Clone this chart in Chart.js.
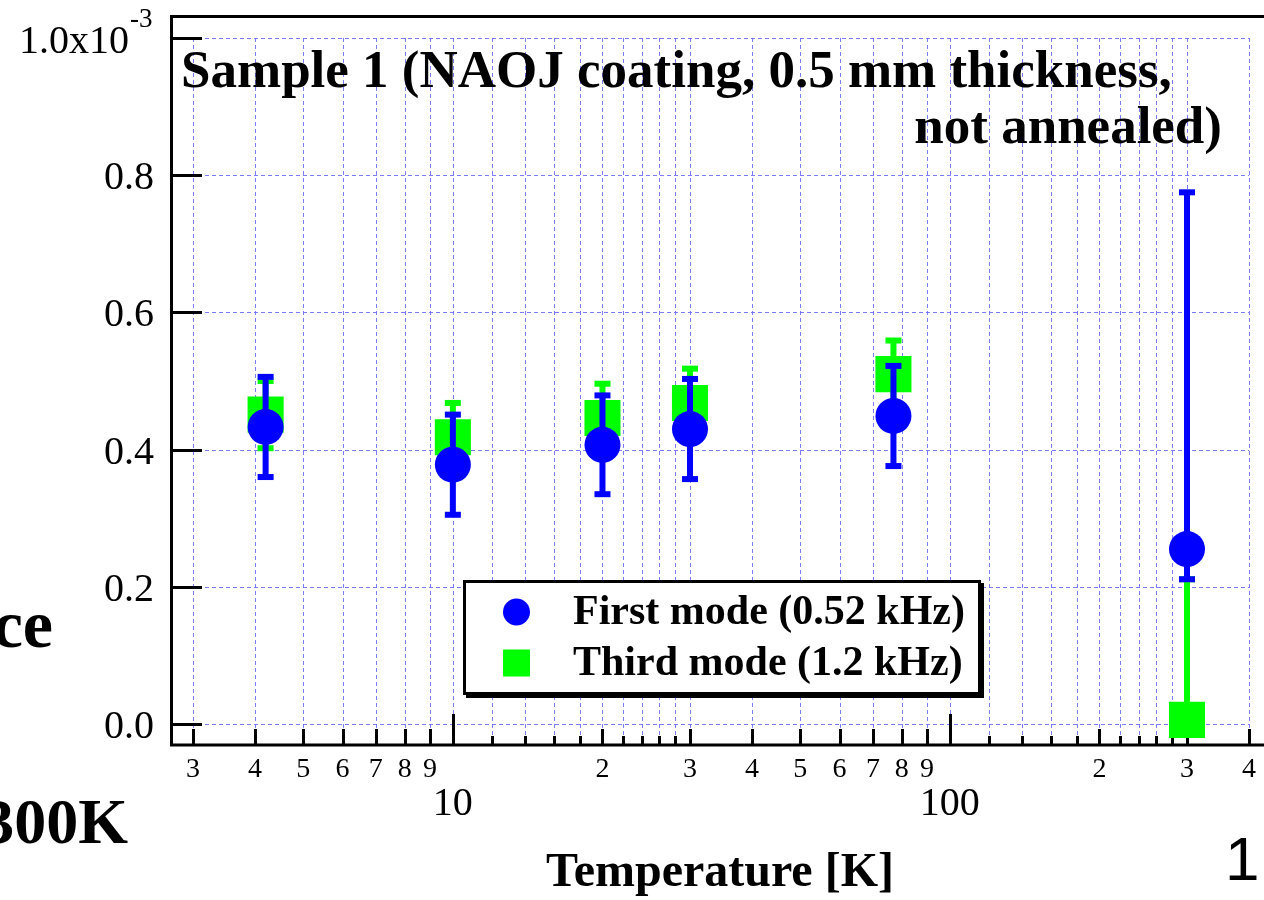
<!DOCTYPE html>
<html>
<head>
<meta charset="utf-8">
<script src="https://cdn.jsdelivr.net/npm/chart.js@4.4.0/dist/chart.umd.min.js"></script>
<style>
  html, body { margin: 0; padding: 0; background: #fff; overflow: hidden; }
  canvas { display: block; }
</style>
</head>
<body>
<canvas id="chart" width="1264" height="900"></canvas>
<script>
// Sample 1 loss vs temperature, y values in units of 1e-3
const temperatures = [4.2, 10, 20, 30, 77, 300];
const firstMode = [0.433, 0.378, 0.407, 0.430, 0.449, 0.255];
const firstErrUp = [0.073, 0.073, 0.072, 0.073, 0.073, 0.520];
const firstErrDown = [0.073, 0.073, 0.072, 0.073, 0.073, 0.044];
const thirdMode = [0.451, 0.418, 0.446, 0.468, 0.510, 0.006];
const thirdErrUp = [0.049, 0.050, 0.050, 0.050, 0.049, 0.205];
const thirdErrDown = [0.049, 0.050, 0.050, 0.050, 0.049, 0.006];

// tick positions on the log axis
const xLabelTicks = [3, 4, 5, 6, 7, 8, 9, 20, 30, 40, 50, 60, 70, 80, 90, 200, 300, 400];
const xDecadeTicks = [10, 100];
const xSmallTicks = [12, 14, 16, 18, 22, 24, 26, 28, 120, 140, 160, 180, 220, 240, 260, 280];
const yTicks = [0, 0.2, 0.4, 0.6, 0.8, 1.0];
const yTickLabels = ['0.0', '0.2', '0.4', '0.6', '0.8', '1.0x10'];

const SERIF = '"Liberation Serif", "Times New Roman", serif';
const SANS = '"Liberation Sans", Arial, sans-serif';
const GRID = 'rgba(110,110,255,0.9)';

// grid, frame and inside ticks the ROOT way
const rootFrame = {
    id: 'rootFrame',
    beforeDatasetsDraw(chart) {
        const ctx = chart.ctx, x = chart.scales.x, y = chart.scales.y, a = chart.chartArea;
        const yTop = y.getPixelForValue(1.0);
        const xRight = x.getPixelForValue(400);
        ctx.save();
        ctx.strokeStyle = GRID;
        ctx.lineWidth = 1;
        ctx.setLineDash([4, 3]);
        [...xLabelTicks, ...xDecadeTicks, ...xSmallTicks].forEach(v => {
            let px = Math.round(x.getPixelForValue(v)) + 0.5;
            ctx.beginPath(); ctx.moveTo(px, yTop); ctx.lineTo(px, a.bottom); ctx.stroke();
        });
        yTicks.forEach(v => {
            let py = Math.round(y.getPixelForValue(v)) + 0.5;
            ctx.beginPath(); ctx.moveTo(a.left, py); ctx.lineTo(xRight, py); ctx.stroke();
        });
        ctx.setLineDash([]);

        ctx.strokeStyle = '#000';
        ctx.lineWidth = 3;
        // frame
        ctx.beginPath();
        ctx.moveTo(a.right, a.top + 1.5); ctx.lineTo(a.left + 1.5, a.top + 1.5);
        ctx.lineTo(a.left + 1.5, a.bottom); ctx.lineTo(a.right, a.bottom);
        ctx.stroke();
        // y ticks
        yTicks.forEach(v => {
            let py = Math.round(y.getPixelForValue(v)) + 0.5;
            ctx.beginPath(); ctx.moveTo(a.left, py); ctx.lineTo(a.left + 32, py); ctx.stroke();
        });
        // x ticks
        const drawTick = (v, len) => {
            let px = Math.round(x.getPixelForValue(v)) + 0.5;
            ctx.beginPath(); ctx.moveTo(px, a.bottom); ctx.lineTo(px, a.bottom - len); ctx.stroke();
        };
        xLabelTicks.forEach(v => drawTick(v, 16));
        xDecadeTicks.forEach(v => drawTick(v, 31));
        xSmallTicks.forEach(v => drawTick(v, 9));

        // tick labels
        ctx.fillStyle = '#000';
        ctx.textAlign = 'center';
        ctx.textBaseline = 'alphabetic';
        ctx.font = '28px ' + SERIF;
        xLabelTicks.forEach(v => {
            let lbl = String(v).charAt(0);
            ctx.fillText(lbl, x.getPixelForValue(v), 777);
        });
        ctx.font = '40px ' + SERIF;
        xDecadeTicks.forEach(v => ctx.fillText(String(v), x.getPixelForValue(v), 815));

        ctx.textAlign = 'right';
        yTicks.forEach((v, i) => {
            let py = y.getPixelForValue(v);
            ctx.font = '40px ' + SERIF;
            if (i === yTicks.length - 1) {
                ctx.fillText(yTickLabels[i], 129, py + 15);
                ctx.font = '27px ' + SERIF;
                ctx.textAlign = 'left';
                ctx.fillText('-3', 130, py - 11);
                ctx.textAlign = 'right';
            } else {
                ctx.fillText(yTickLabels[i], 154, py + 14);
            }
        });
        ctx.restore();
    }
};

// error bars drawn just before each dataset's markers
const errorBars = {
    id: 'errorBars',
    beforeDatasetDraw(chart, args) {
        const ds = chart.data.datasets[args.index];
        const y = chart.scales.y, a = chart.chartArea, ctx = chart.ctx;
        ctx.save();
        ctx.beginPath();
        ctx.rect(a.left, a.top, a.right - a.left, a.bottom - a.top);
        ctx.clip();
        ctx.fillStyle = ds.backgroundColor;
        args.meta.data.forEach((pt, i) => {
            let v = ds.data[i].y;
            let top = y.getPixelForValue(v + ds.errUp[i]);
            let bot = y.getPixelForValue(v - ds.errDown[i]);
            ctx.fillRect(pt.x - 3, top, 6, bot - top);
            ctx.fillRect(pt.x - 8, top - 3, 16, 6);
            ctx.fillRect(pt.x - 8, bot - 3, 16, 6);
        });
        ctx.restore();
    }
};

// title, axis title, legend box and stray page text
const annotations = {
    id: 'annotations',
    afterDraw(chart) {
        const ctx = chart.ctx;
        ctx.save();
        ctx.fillStyle = '#000';
        ctx.textBaseline = 'alphabetic';
        ctx.font = 'bold 53px ' + SERIF;
        ctx.textAlign = 'left';
        ctx.fillText('Sample 1 (NAOJ coating, 0.5 mm thickness,', 181, 87);
        ctx.textAlign = 'right';
        ctx.fillText('not annealed)', 1222, 143);

        ctx.textAlign = 'center';
        ctx.font = 'bold 48px ' + SERIF;
        ctx.fillText('Temperature [K]', 720, 886);

        ctx.textAlign = 'right';
        ctx.font = 'bold 68px ' + SERIF;
        ctx.fillText('ce', 53, 647);
        ctx.font = 'bold 64px ' + SERIF;
        ctx.fillText('300K', 128, 843);
        ctx.textAlign = 'left';
        ctx.font = '62px ' + SANS;
        ctx.fillText('1', 1225, 880);

        // legend
        const bx = 463, by = 580, bw = 518, bh = 115;
        ctx.fillStyle = '#fff';
        ctx.fillRect(bx, by, bw, bh);
        ctx.fillStyle = '#000';
        ctx.fillRect(bx + 3, by + bh, bw, 3);
        ctx.fillRect(bx + bw, by + 3, 3, bh);
        ctx.strokeStyle = '#000';
        ctx.lineWidth = 3;
        ctx.strokeRect(bx + 1.5, by + 1.5, bw - 3, bh - 3);

        const rows = [612, 663];
        chart.data.datasets.forEach((ds, i) => {
            let cy = rows[i];
            ctx.fillStyle = ds.backgroundColor;
            if (ds.pointStyle === 'circle') {
                ctx.beginPath(); ctx.arc(516.5, cy, 13.5, 0, Math.PI * 2); ctx.fill();
            } else {
                ctx.fillRect(503, cy - 13.5, 27, 27);
            }
            ctx.fillStyle = '#000';
            ctx.font = 'bold 42px ' + SERIF;
            ctx.textAlign = 'left';
            ctx.fillText(ds.label, 573, cy + 12);
        });
        ctx.restore();
    }
};

const ctx = document.getElementById('chart').getContext('2d');
new Chart(ctx, {
    type: 'scatter',
    data: {
        datasets: [
            {
                label: 'First mode (0.52 kHz)',
                data: temperatures.map((t, i) => ({ x: t, y: firstMode[i] })),
                errUp: firstErrUp,
                errDown: firstErrDown,
                backgroundColor: '#0000ff',
                pointStyle: 'circle',
                pointRadius: 18,
                pointBorderWidth: 0,
                clip: false
            },
            {
                label: 'Third mode (1.2 kHz)',
                data: temperatures.map((t, i) => ({ x: t, y: thirdMode[i] })),
                errUp: thirdErrUp,
                errDown: thirdErrDown,
                backgroundColor: '#00ff00',
                pointStyle: 'rect',
                pointRadius: 25.5,
                pointBorderWidth: 0,
                clip: false
            }
        ]
    },
    options: {
        responsive: false,
        animation: false,
        layout: { autoPadding: false, padding: { left: 170, top: 15, right: 0, bottom: 155 } },
        scales: {
            x: { type: 'logarithmic', min: 2.697, max: 428.6, display: false },
            y: { type: 'linear', min: -0.0306, max: 1.0335, display: false }
        },
        plugins: {
            legend: { display: false },
            tooltip: { enabled: false }
        }
    },
    plugins: [rootFrame, errorBars, annotations]
});
</script>
</body>
</html>
